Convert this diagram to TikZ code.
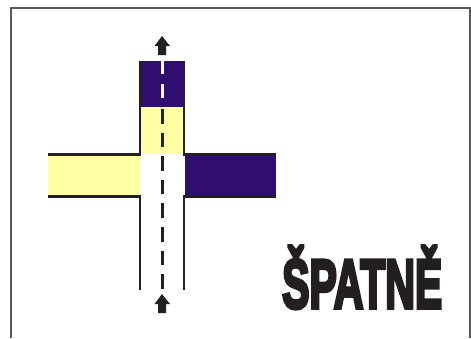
\documentclass[tikz,border=0pt]{standalone}
\usepackage{fontspec}
\usepackage{graphicx}
\setmainfont{Liberation Sans}
\definecolor{roadpurple}{HTML}{2F0E70}
\definecolor{roadyellow}{HTML}{FFFFA3}
\definecolor{ink}{HTML}{231F20}
\newfontfamily\heavyfont[FakeBold=5.5]{Liberation Sans Bold}
\tikzset{
  x=1pt,y=-1pt,
  frameline/.style={draw=ink!75,line width=2pt},
  edgeline/.style={draw=ink,line width=2.8pt},
  blackdash/.style={draw=ink,line width=3pt,dash pattern=on 14.5pt off 9.1pt},
  whitedash/.style={draw=white,line width=3pt},
  arrowshape/.style={fill=ink,draw=none}
}
\begin{document}
\begin{tikzpicture}
\useasboundingbox (0,0) rectangle (471,338);
% fills
\fill[roadpurple] (141,61) rectangle (184,107);
\fill[roadyellow] (141,107) rectangle (184,153);
\fill[roadyellow] (48,155) rectangle (140,196);
\fill[roadpurple] (185,155) rectangle (275.5,196);
% frame
\draw[frameline] (11,338) -- (11,8) -- (469.5,8) -- (469.5,338);
% road edges
\draw[edgeline] (140,61) -- (140,154.5) -- (48,154.5);
\draw[edgeline] (184,61) -- (184,154.5) -- (276,154.5);
\draw[edgeline] (48,196.5) -- (140,196.5) -- (140,290);
\draw[edgeline] (276,196.5) -- (184,196.5) -- (184,290);
% centre line
\draw[blackdash] (162,109) -- (162,289);
\draw[whitedash] (162,61) -- (162,74);
\draw[whitedash] (162,83.5) -- (162,98);
% arrows
\fill[arrowshape] (162,36) -- (170,46) -- (166,46) -- (166,55) -- (158,55) -- (158,46) -- (154.5,46) -- cycle;
\fill[arrowshape] (162,294) -- (170,304) -- (166,304) -- (166,313) -- (158,313) -- (158,304) -- (154.5,304) -- cycle;
% label
\node[anchor=base west,inner sep=0pt,text=ink] (label) at (282,308)
  {\resizebox{160pt}{62pt}{\fontsize{56}{60}\selectfont\heavyfont ŠPATNĚ}};
\end{tikzpicture}
\end{document}
